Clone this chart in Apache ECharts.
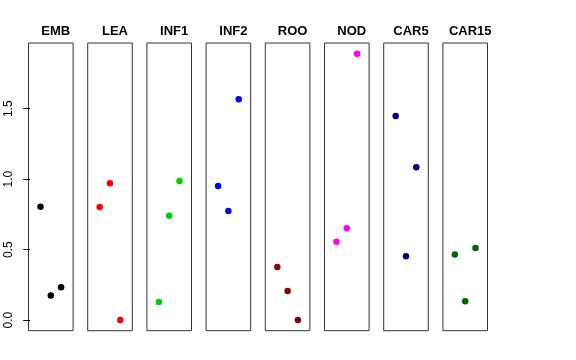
<!DOCTYPE html>
<html><head><meta charset="utf-8">
<script src="https://cdn.jsdelivr.net/npm/echarts@6/dist/echarts.min.js"></script>
<style>html,body{margin:0;padding:0;background:#fff}#c{width:576px;height:360px}</style>
</head><body><div id="c"></div>
<script>
const panels = ['EMB','LEA','INF1','INF2','ROO','NOD','CAR5','CAR15'];
const colors = ['#000000','#FF0000','#00CD00','#0000FF','#8B0000','#FF00FF','#00008B','#006400'];
const EMB   = [0.805, 0.175, 0.232];
const LEA   = [0.803, 0.971, 0.0];
const INF1  = [0.128, 0.741, 0.987];
const INF2  = [0.952, 0.774, 1.567];
const ROO   = [0.376, 0.206, 0.0];
const NOD   = [0.556, 0.651, 1.891];
const CAR5  = [1.449, 0.452, 1.084];
const CAR15 = [0.466, 0.133, 0.511];
const values = [EMB, LEA, INF1, INF2, ROO, NOD, CAR5, CAR15];
const yTicks = [0, 0.5, 1.0, 1.5];
const yTickLabels = ['0.0', '0.5', '1.0', '1.5'];

const dataMax = Math.max(...values.flat());
const dataMin = Math.min(...values.flat());
const ext = (dataMax - dataMin) * 0.04;
const yMin = dataMin - ext, yMax = dataMax + ext;

const L0 = 28.5, STEP = 59.2, W = 44.6, TOP = 43, H = 287.7;
const grid = [], xAxis = [], yAxis = [], series = [], title = [];
panels.forEach((p, i) => {
  const left = L0 + i * STEP;
  grid.push({left: left, top: TOP, width: W, height: H, show: true, borderColor: '#333', borderWidth: 1, backgroundColor: 'transparent'});
  xAxis.push({gridIndex: i, type: 'value', min: -0.165, max: 4.165, show: false});
  yAxis.push({
    gridIndex: i, type: 'value', min: yMin, max: yMax, show: i === 0,
    splitLine: {show: false},
    axisLine: {show: false},
    axisTick: {show: i === 0, length: 7, customValues: yTicks, lineStyle: {color: '#000'}},
    axisLabel: {show: i === 0, customValues: yTicks, rotate: 90, margin: 14, color: '#000',
      fontSize: 12, fontFamily: 'Liberation Sans, Arial, sans-serif',
      formatter: v => { const k = yTicks.findIndex(t => Math.abs(t - v) < 1e-9); return k >= 0 ? yTickLabels[k] : ''; }}
  });
  series.push({type: 'scatter', xAxisIndex: i, yAxisIndex: i, symbolSize: 6.5,
    itemStyle: {color: colors[i], opacity: 1}, silent: true,
    data: values[i].map((v, j) => [j + 1, v])});
  title.push({text: p, left: left + W / 2, top: 20, textAlign: 'center',
    textStyle: {fontSize: 13, fontWeight: 'bold', color: '#000', fontFamily: 'Liberation Sans, Arial, sans-serif'}});
});

const chart = echarts.init(document.getElementById('c'), null, {renderer: 'canvas'});
chart.setOption({animation: false, backgroundColor: '#fff', title, grid, xAxis, yAxis, series});
</script></body></html>
